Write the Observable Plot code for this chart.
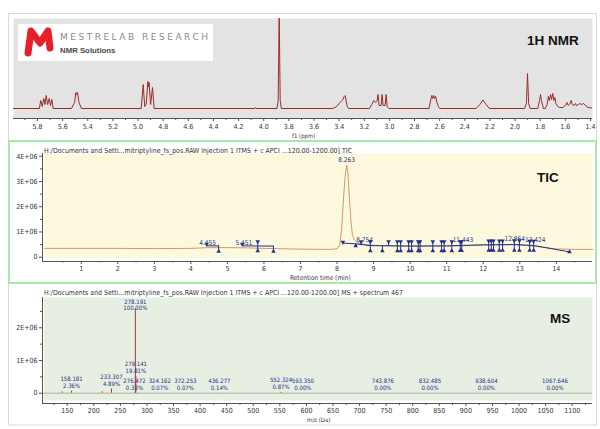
<!DOCTYPE html>
<html><head><meta charset="utf-8">
<script src="https://cdn.jsdelivr.net/npm/d3@7"></script>
<script src="https://cdn.jsdelivr.net/npm/@observablehq/plot@0.6"></script>
<style>
html,body{margin:0;padding:0;background:#fff;}
body{width:600px;height:429px;position:relative;overflow:hidden;}
svg.pl{position:absolute;left:0;}
</style></head><body>
<script>
// ---------- 1H NMR trace: [ppm, relative intensity] ----------
const nmrTrace = [
[5.99,0],[5.785,0],[5.774,8],[5.762,2],[5.750,10],[5.740,4],[5.731,13],[5.719,4],[5.707,10],[5.696,3],[5.686,9],[5.675,0],
[5.53,0],[5.505,6],[5.495,16],[5.488,14],[5.482,16],[5.47,6],[5.45,0],
[4.975,0],[4.959,24],[4.947,2],[4.935,4],[4.922,27],[4.917,22],[4.912,26],[4.900,4],[4.885,21],[4.872,0],
[4.07,0],[4.065,1],[4.06,0],
[3.895,0],[3.885,8],[3.877,96],[3.869,8],[3.86,0],
[3.45,0],[3.42,2],[3.40,5],[3.385,7],[3.37,9],[3.36,12],[3.352,13],[3.345,8],[3.335,2],[3.325,0],
[3.16,0],[3.14,4],[3.125,8],[3.11,6],[3.098,8],[3.090,14],[3.082,3],[3.066,3],[3.058,14],[3.05,3],[3.034,3],[3.026,14],[3.018,2],[3.005,0],
[2.685,0],[2.67,9],[2.663,13],[2.655,10],[2.648,13],[2.64,10],[2.632,12],[2.622,6],[2.61,2],[2.60,0],
[2.31,0],[2.28,4],[2.255,8.5],[2.23,4],[2.205,0],
[1.925,0],[1.91,5],[1.901,35],[1.892,5],[1.88,0],
[1.82,0],[1.805,8],[1.798,14],[1.79,8],[1.775,0],
[1.76,0],[1.745,4],[1.735,12],[1.727,8],[1.718,14],[1.71,9],[1.70,15],[1.692,8],[1.683,11],[1.675,5],[1.66,2],[1.645,1],
[1.62,1],[1.60,3],[1.588,6],[1.578,3],[1.562,5],[1.554,8],[1.545,4],[1.53,3],[1.52,5],[1.51,3],[1.495,4],[1.485,5],[1.47,4],[1.455,5],[1.44,3],[1.42,1],[1.385,0.5]
];
const nmrTicks = [5.8,5.6,5.4,5.2,5.0,4.8,4.6,4.4,4.2,4.0,3.8,3.6,3.4,3.2,3.0,2.8,2.6,2.4,2.2,2.0,1.8,1.6,1.4];
const nmrMinorTicks = [5.9,5.7,5.5,5.3,5.1,4.9,4.7,4.5,4.3,4.1,3.9,3.7,3.5,3.3,3.1,2.9,2.7,2.5,2.3,2.1,1.9,1.7,1.5];

// ---------- TIC (intensity in units of 1E+06) ----------
const ticTime = [0,0.5,1,2,3,4,4.5,5,5.5,6,7,7.8,8.0,8.08,8.13,8.18,8.22,8.263,8.3,8.34,8.38,8.42,8.47,8.55,8.7,9,10,11,12,12.8,13.3,14,14.5,15];
const ticInt  = [0.35,0.35,0.35,0.35,0.34,0.35,0.38,0.38,0.37,0.35,0.32,0.31,0.33,0.5,1.2,2.4,3.2,3.65,3.3,2.3,1.4,0.9,0.7,0.58,0.52,0.47,0.44,0.44,0.48,0.5,0.45,0.33,0.31,0.31];
// integration boundary markers
const intT    = [4.43,4.76,5.41,5.83,6.26,8.16,8.51,8.66,8.91,9.24,9.41,9.65,9.74,9.96,10.04,10.22,10.27,10.62,10.86,10.93,11.14,11.37,11.41,12.15,12.22,12.28,12.44,12.53,12.85,12.99,13.27,13.38,14.36];
const intKind = ["down","up","down","both","up","down","up","down","both","up","down","both","both","both","both","both","both","both","both","both","both","both","both","both","both","both","both","both","both","both","both","both","up"];
const intTop  = [0.52,0.45,0.52,0.62,0.44,0.60,0.53,0.62,0.62,0.45,0.62,0.62,0.62,0.62,0.62,0.62,0.62,0.62,0.62,0.62,0.62,0.62,0.62,0.65,0.65,0.65,0.65,0.65,0.66,0.66,0.64,0.64,0.25];
const intBot  = [0.45,0.23,0.45,0.25,0.23,0.56,0.45,0.47,0.25,0.25,0.45,0.25,0.25,0.25,0.25,0.25,0.25,0.25,0.25,0.25,0.25,0.26,0.26,0.27,0.27,0.27,0.27,0.27,0.27,0.27,0.27,0.27,0.21];
// integration baselines [group, time, value]
const intLine = [[1,4.43,0.45],[1,4.76,0.45],[2,5.41,0.45],[2,6.26,0.44],[3,8.16,0.56],[3,8.51,0.53],[3,8.9,0.46],[3,10,0.44],[3,11,0.45],[3,12,0.49],[3,12.9,0.5],[3,13.4,0.46],[3,14.36,0.21]];
const ticLabelT = [4.455,5.451,8.263,8.754,11.443,12.864,13.424];
const ticLabelV = [0.58,0.58,3.87,0.69,0.69,0.73,0.69];
const ticXTicks = [1,2,3,4,5,6,7,8,9,10,11,12,13,14];
const ticXMinor = [0.5,1.5,2.5,3.5,4.5,5.5,6.5,7.5,8.5,9.5,10.5,11.5,12.5,13.5,14.5];
const ticYTicks = [0,1,2,3,4];
const ticYMinor = [0.5,1.5,2.5,3.5];

// ---------- MS spectrum (intensity in units of 1E+06) ----------
const msMz  = [140.6,158.181,215.8,233.307,276.472,278.191,279.141,324.162,372.253,436.277,552.324,593.350,743.876,832.485,938.604,1067.646];
const msInt = [0.04,0.061,0.04,0.126,0.0085,2.58,0.511,0.0018,0.0018,0.0036,0.022,0,0,0,0,0];
const msLabelMz  = [158.181,233.307,276.472,278.191,279.141,324.162,372.253,436.277,552.324,593.350,743.876,832.485,938.604,1067.646];
const msLabelInt = [0.061,0.126,0.0085,2.58,0.511,0.0018,0.0018,0.0036,0.022,0,0,0,0,0];
const msLabelPct = ["2.36%","4.89%","0.33%","100.00%","19.81%","0.07%","0.07%","0.14%","0.87%","0.00%","0.00%","0.00%","0.00%","0.00%"];
const msXTicks = [150,200,250,300,350,400,450,500,550,600,650,700,750,800,850,900,950,1000,1050,1100];
const msXMinor = [125,175,225,275,325,375,425,475,525,575,625,675,725,775,825,875,925,975,1025,1075,1125];
const msYTicks = [0,1,2];
const msYMinor = [0.5,1.5,2.5];

const FONT = "'Liberation Sans Narrow','DejaVu Sans Condensed','Liberation Sans',Arial,sans-serif";
const NAVY = "#22308a";
const AX = "#555";
const eFmt = d => d === 0 ? "0" : d + "E+06";
const baseStyle = {fontFamily: FONT, fontSize: "7px", color: "#333", background: "transparent", overflow: "visible"};

function place(svg, top) { svg.classList.add("pl"); svg.style.top = top + "px"; document.body.appendChild(svg); }

// NMR
const nmrXDom = [5.991, 1.384], nmrYDom = [-10, 90];
place(Plot.plot({
  width: 600, height: 122, marginTop: 0, marginBottom: 22, marginLeft: 13, marginRight: 8,
  style: baseStyle,
  x: {domain: nmrXDom, label: null}, y: {domain: nmrYDom, axis: null, label: null},
  marks: [
    Plot.frame({fill: "#e3e3e3", stroke: null}),
    Plot.line(nmrTrace, {x: d => d[0], y: d => d[1], stroke: "#9a2a2a", strokeWidth: 1, clip: true}),
    Plot.ruleY([nmrYDom[0]], {stroke: AX}),
    Plot.axisX(nmrMinorTicks, {tickSize: 2, text: null, stroke: AX, label: null}),
    Plot.axisX(nmrTicks, {tickSize: 3, tickPadding: 2.5, stroke: AX, tickFormat: d => d.toFixed(1), label: null})
  ]
}), 18);

// TIC
const ticXDom = [-0.06, 14.99], ticYDom = [-0.17, 4.11];
const intRows = intT.map((t, i) => ({t, kind: intKind[i], top: intTop[i], bot: intBot[i]}));
place(Plot.plot({
  width: 600, height: 137, marginTop: 10, marginBottom: 19, marginLeft: 42, marginRight: 8,
  style: baseStyle,
  x: {domain: ticXDom, label: null}, y: {domain: ticYDom, label: null},
  marks: [
    Plot.frame({fill: "#fcf9df", stroke: null, insetLeft: 1.5, insetBottom: 3}),
    Plot.line(ticTime.map((t, i) => [t, ticInt[i]]), {x: d => d[0], y: d => d[1], stroke: "#d3976f", strokeWidth: 1}),
    Plot.line(intLine, {x: d => d[1], y: d => d[2], z: d => d[0], stroke: NAVY, strokeWidth: 1}),
    Plot.ruleX(intRows, {x: "t", y1: "top", y2: "bot", stroke: NAVY, strokeWidth: 1}),
    Plot.dot(intRows.filter(d => d.kind !== "up"), {x: "t", y: "top", symbol: "triangle", r: 1.7, fill: NAVY, stroke: null, rotate: 180}),
    Plot.dot(intRows.filter(d => d.kind !== "down"), {x: "t", y: "bot", symbol: "triangle", r: 1.7, fill: NAVY, stroke: null}),
    Plot.text(ticLabelT, {x: d => d, y: (d, i) => ticLabelV[i], text: d => d.toFixed(3), fill: NAVY, fontSize: 6.5}),
    Plot.ruleY([ticYDom[0]], {stroke: AX}),
    Plot.ruleX([ticXDom[0]], {stroke: AX}),
    Plot.axisX(ticXMinor, {tickSize: 1.5, text: null, stroke: AX, label: null}),
    Plot.axisX(ticXTicks, {tickSize: 3, tickPadding: 1.5, stroke: AX, label: null}),
    Plot.axisY(ticYMinor, {tickSize: 2, text: null, stroke: AX, label: null}),
    Plot.axisY(ticYTicks, {tickSize: 3, tickPadding: 2, stroke: AX, tickFormat: eFmt, label: null})
  ]
}), 143);

// MS
const msXDom = [103.5, 1138.2], msYDom = [-0.315, 2.927];
const msPeaks = msMz.map((m, i) => ({m, v: msInt[i]}));
const msLabels = msLabelMz.map((m, i) => ({m, v: msLabelInt[i], t: m.toFixed(3) + "\n" + msLabelPct[i]}));
place(Plot.plot({
  width: 600, height: 138, marginTop: 12, marginBottom: 20, marginLeft: 42, marginRight: 8,
  style: baseStyle,
  x: {domain: msXDom, label: null}, y: {domain: msYDom, label: null},
  marks: [
    Plot.frame({fill: "#e6efe2", stroke: null, insetLeft: 1.5, insetBottom: 3}),
    Plot.ruleY([0], {stroke: "#a9b4a6"}),
    Plot.ruleX(msPeaks, {x: "m", y1: 0, y2: "v", stroke: "#a83434", strokeWidth: 1}),
    Plot.text(msLabels.filter(d => d.v < 2), {x: "m", y: "v", text: "t", fill: NAVY, fontSize: 6, lineAnchor: "bottom", lineHeight: 1.2, dy: -3}),
    Plot.text(msLabels.filter(d => d.v >= 2), {x: "m", y: "v", text: "t", fill: NAVY, fontSize: 6, lineAnchor: "bottom", lineHeight: 1.0, dy: 1.5}),
    Plot.ruleY([msYDom[0]], {stroke: AX}),
    Plot.ruleX([msXDom[0]], {stroke: AX}),
    Plot.axisX(msXMinor, {tickSize: 2, text: null, stroke: AX, label: null}),
    Plot.axisX(msXTicks, {tickSize: 3, tickPadding: 2, stroke: AX, tickFormat: d => String(d), label: null}),
    Plot.axisY(msYMinor, {tickSize: 2, text: null, stroke: AX, label: null}),
    Plot.axisY(msYTicks, {tickSize: 3, tickPadding: 2, stroke: AX, tickFormat: eFmt, label: null})
  ]
}), 285);

// ---------- overlay: frames, logo, titles ----------
const ov = `
<svg width="600" height="429" style="position:absolute;left:0;top:0;pointer-events:none" font-family="${FONT.replace(/'/g, "")}">
 <rect x="8.5" y="13.5" width="588" height="411.5" fill="none" stroke="#d9d9d9"/>
 <rect x="9" y="141" width="587" height="142" fill="none" stroke="#a6eaa6" stroke-width="2"/>
 <rect x="18" y="24" width="195" height="37" fill="#ffffff"/>
 <path d="M28,53 L31,31 L40,43 L48,31 L50,48" fill="none" stroke="#e5202a" stroke-width="7" stroke-linecap="round" stroke-linejoin="round"/>
 <text x="60" y="39.5" font-family="DejaVu Sans" font-size="9" fill="#8a8a8a" textLength="148" lengthAdjust="spacing">MESTRELAB RESEARCH</text>
 <text x="60" y="52.7" font-family="Liberation Sans" font-weight="bold" font-size="7.8" fill="#4a4a4a">NMR Solutions</text>
 <text x="527" y="45" font-family="Liberation Sans" font-weight="bold" font-size="13.5" fill="#111">1H NMR</text>
 <text x="537" y="182" font-family="Liberation Sans" font-weight="bold" font-size="13.5" fill="#111">TIC</text>
 <text x="550" y="323" font-family="Liberation Sans" font-weight="bold" font-size="13.5" fill="#111">MS</text>
 <text x="292" y="137.5" font-size="6" fill="#333">f1 (ppm)</text>
 <text x="44" y="152.5" font-size="7" fill="#333" textLength="308" lengthAdjust="spacingAndGlyphs">H:/Documents and Setti...mitriptyline_fs_pos.RAW Injection 1 ITMS + c APCI ...120.00-1200.00] TIC</text>
 <text x="290" y="279.5" font-size="6.5" fill="#333">Retention time (min)</text>
 <text x="44" y="295" font-size="7" fill="#333" textLength="359" lengthAdjust="spacingAndGlyphs">H:/Documents and Setti...mitriptyline_fs_pos.RAW Injection 1 ITMS + c APCI ...120.00-1200.00] MS + spectrum 467</text>
 <text x="307" y="421.5" font-size="6" fill="#333">m/z (Da)</text>
</svg>`;
document.body.insertAdjacentHTML("beforeend", ov);
</script>
</body></html>
